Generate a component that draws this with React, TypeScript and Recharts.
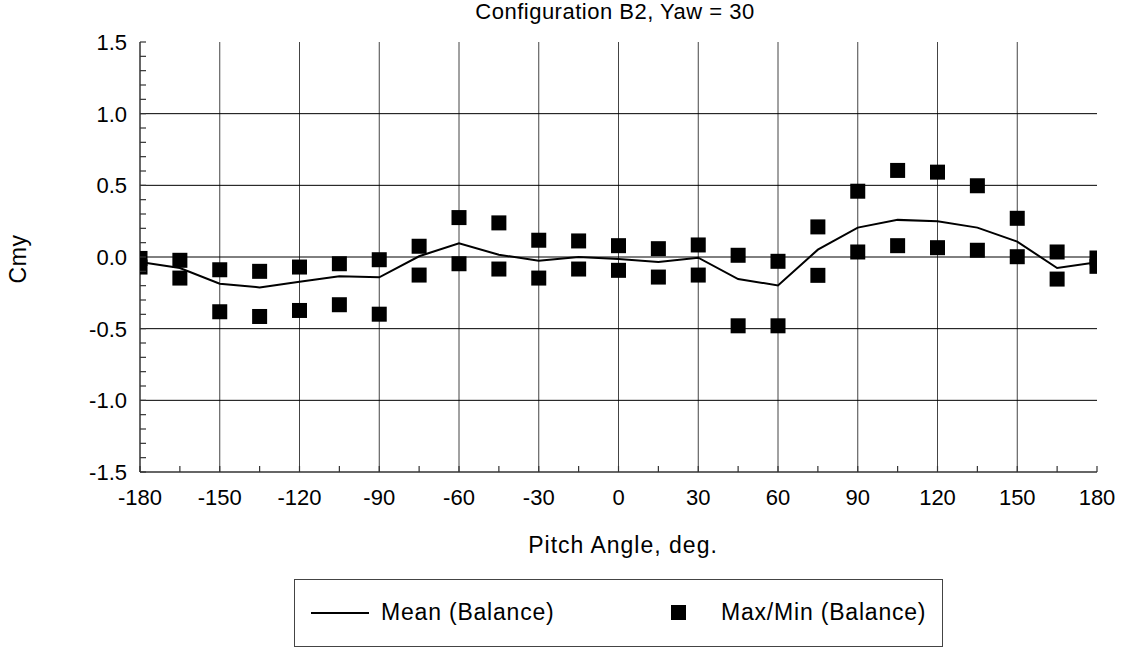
import { ComposedChart, Line, Scatter, XAxis, YAxis, ReferenceLine } from 'recharts';

const pitch = [-180, -165, -150, -135, -120, -105, -90, -75, -60, -45, -30, -15, 0, 15, 30, 45, 60, 75, 90, 105, 120, 135, 150, 165, 180];
const meanCmy = [-0.035, -0.077, -0.186, -0.212, -0.172, -0.135, -0.142, 0.005, 0.096, 0.016, -0.026, 0.0, -0.014, -0.035, -0.005, -0.154, -0.198, 0.051, 0.205, 0.259, 0.249, 0.205, 0.107, -0.077, -0.037];
const maxCmy = [-0.01, -0.023, -0.089, -0.1, -0.07, -0.047, -0.019, 0.075, 0.275, 0.238, 0.117, 0.112, 0.079, 0.058, 0.084, 0.012, -0.03, 0.21, 0.459, 0.604, 0.592, 0.497, 0.27, 0.035, -0.007];
const minCmy = [-0.07, -0.147, -0.382, -0.415, -0.373, -0.333, -0.399, -0.126, -0.047, -0.084, -0.147, -0.084, -0.093, -0.14, -0.126, -0.48, -0.48, -0.128, 0.035, 0.079, 0.065, 0.047, 0.002, -0.154, -0.065];

const xTicks = [-180, -165, -150, -135, -120, -105, -90, -75, -60, -45, -30, -15, 0, 15, 30, 45, 60, 75, 90, 105, 120, 135, 150, 165, 180];
const xGrid = [-150, -120, -90, -60, -30, 0, 30, 60, 90, 120, 150];
const yTicks = [-1.5, -1.4, -1.3, -1.2, -1.1, -1.0, -0.9, -0.8, -0.7, -0.6, -0.5, -0.4, -0.3, -0.2, -0.1, 0, 0.1, 0.2, 0.3, 0.4, 0.5, 0.6, 0.7, 0.8, 0.9, 1.0, 1.1, 1.2, 1.3, 1.4, 1.5];
const yGrid = [-1.0, -0.5, 0, 0.5, 1.0];

const meanData = pitch.map((p, i) => ({ pitch: p, mean: meanCmy[i] }));
const extremeData = [
  ...pitch.map((p, i) => ({ pitch: p, cmy: maxCmy[i] })),
  ...pitch.map((p, i) => ({ pitch: p, cmy: minCmy[i] })),
];

const FONT = '"Liberation Sans", Arial, sans-serif';
const FS = 22;
const AXIS = '#333';

const isMajorX = (v: number) => v % 30 === 0;
const isMajorY = (v: number) => Math.abs(v * 2 - Math.round(v * 2)) < 1e-6;

function BottomTick({ x, y, payload }: any) {
  return (
    <g>
      <line x1={x} y1={y} x2={x} y2={y - 6} stroke={AXIS} strokeWidth={1.2} />
      {isMajorX(payload.value) && (
        <text x={x} y={y + 33} textAnchor="middle" fontFamily={FONT} fontSize={FS} fill="#000">
          {payload.value}
        </text>
      )}
    </g>
  );
}

function TopTick({ x, y }: any) {
  return <line x1={x} y1={y} x2={x} y2={y + 6} stroke={AXIS} strokeWidth={1.2} />;
}

function LeftTick({ x, y, payload }: any) {
  return (
    <g>
      <line x1={x} y1={y} x2={x + 6} y2={y} stroke={AXIS} strokeWidth={1.2} />
      {isMajorY(payload.value) && (
        <text x={x - 13} y={y + 8} textAnchor="end" fontFamily={FONT} fontSize={FS} fill="#000">
          {payload.value.toFixed(1)}
        </text>
      )}
    </g>
  );
}

function RightTick({ x, y }: any) {
  return <line x1={x} y1={y} x2={x - 6} y2={y} stroke={AXIS} strokeWidth={1.2} />;
}

function SquareDot({ cx, cy }: any) {
  return <rect x={cx - 7.5} y={cy - 7.5} width={15} height={15} fill="#000" />;
}

function LegendBox() {
  const txt = { position: 'absolute' as const, top: 19, fontFamily: FONT, fontSize: 23, letterSpacing: 0.8, lineHeight: '27px' };
  return (
    <div
      style={{
        position: 'absolute',
        left: 294,
        top: 579,
        width: 649,
        height: 68,
        boxSizing: 'border-box',
        border: '1.5px solid #444',
      }}
    >
      <svg width={58} height={4} style={{ position: 'absolute', left: 16, top: 31 }}>
        <line x1={0} y1={2} x2={58} y2={2} stroke="#000" strokeWidth={2} />
      </svg>
      <span style={{ ...txt, left: 86 }}>Mean (Balance)</span>
      <svg width={15} height={15} style={{ position: 'absolute', left: 376, top: 25 }}>
        <rect x={0} y={0} width={15} height={15} fill="#000" />
      </svg>
      <span style={{ ...txt, left: 426 }}>Max/Min (Balance)</span>
    </div>
  );
}

export default function App() {
  return (
    <div style={{ position: 'absolute', left: 0, top: 0, width: 1125, height: 649, background: '#fff' }}>
      <ComposedChart width={1125} height={649} margin={{ top: 42, right: 28, bottom: 147, left: 80 }}>
        <XAxis
          dataKey="pitch"
          type="number"
          domain={[-180, 180]}
          ticks={xTicks}
          interval={0}
          tickSize={0}
          tickMargin={0}
          height={30}
          tick={<BottomTick />}
          stroke={AXIS}
          strokeWidth={1.5}
          allowDataOverflow
        />
        <XAxis
          xAxisId="top"
          orientation="top"
          dataKey="pitch"
          type="number"
          domain={[-180, 180]}
          ticks={xTicks}
          interval={0}
          tickSize={0}
          tickMargin={0}
          height={0}
          tick={<TopTick />}
          stroke={AXIS}
          strokeWidth={1.5}
        />
        <YAxis
          type="number"
          domain={[-1.5, 1.5]}
          ticks={yTicks}
          interval={0}
          tickSize={0}
          tickMargin={0}
          width={60}
          tick={<LeftTick />}
          stroke={AXIS}
          strokeWidth={1.5}
          allowDataOverflow
        />
        <YAxis
          yAxisId="right"
          orientation="right"
          type="number"
          domain={[-1.5, 1.5]}
          ticks={yTicks}
          interval={0}
          tickSize={0}
          tickMargin={0}
          width={0}
          tick={<RightTick />}
          stroke={AXIS}
          strokeWidth={1.5}
        />
        {xGrid.map((v) => (
          <ReferenceLine key={'x' + v} x={v} stroke="#444" strokeWidth={1} />
        ))}
        {yGrid.map((v) => (
          <ReferenceLine key={'y' + v} y={v} stroke="#000" strokeWidth={1} />
        ))}
        <Line
          data={meanData}
          dataKey="mean"
          name="Mean (Balance)"
          stroke="#000"
          strokeWidth={2}
          dot={false}
          isAnimationActive={false}
        />
        <Scatter
          data={extremeData}
          dataKey="cmy"
          name="Max/Min (Balance)"
          fill="#000"
          shape={<SquareDot />}
          isAnimationActive={false}
        />
      </ComposedChart>
      <svg width={1125} height={649} style={{ position: 'absolute', left: 0, top: 0, pointerEvents: 'none' }}>
        <text x={615} y={19} textAnchor="middle" fontFamily={FONT} fontSize={FS} letterSpacing={0.5}>
          Configuration B2, Yaw = 30
        </text>
        <text x={623} y={553} textAnchor="middle" fontFamily={FONT} fontSize={23} letterSpacing={1}>
          Pitch Angle, deg.
        </text>
        <text
          x={0}
          y={0}
          transform="translate(26, 259) rotate(-90)"
          textAnchor="middle"
          fontFamily={FONT}
          fontSize={23}
          letterSpacing={0.5}
        >
          Cmy
        </text>
      </svg>
      <LegendBox />
    </div>
  );
}
